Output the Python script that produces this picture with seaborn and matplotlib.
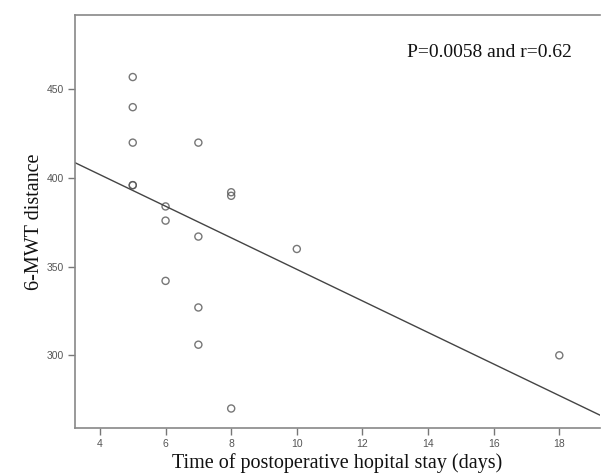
import matplotlib
matplotlib.use("Agg")
import matplotlib.pyplot as plt
import seaborn as sns
import pandas as pd

# Data
stay_days = [5, 5, 5, 5, 5, 6, 6, 6, 7, 7, 7, 7, 8, 8, 8, 10, 18]
mwt_distance = [457, 440, 420, 396, 396, 384, 376, 342, 420, 367, 327, 306, 392, 390, 270, 360, 300]
x_ticks = [4, 6, 8, 10, 12, 14, 16, 18]
y_ticks = [300, 350, 400, 450]
x_label = "Time of postoperative hopital stay (days)"
y_label = "6-MWT distance"
annotation = "P=0.0058 and r=0.62"

df = pd.DataFrame({"days": stay_days, "mwt": mwt_distance})

sns.set_style("white")
plt.rcParams["font.family"] = ["Liberation Sans", "DejaVu Sans"]

fig = plt.figure(figsize=(6.01, 4.75), dpi=100)
ax = fig.add_axes([75 / 601, 1 - 428 / 475, 525 / 601, 413 / 475])
ax.set_xlim(3.24, 19.24)
ax.set_ylim(259, 492)

sns.regplot(data=df, x="days", y="mwt", ax=ax, ci=None, truncate=False,
            scatter_kws=dict(s=26, facecolors="none", edgecolors="#555555", linewidths=1.0),
            line_kws=dict(color="#444444", linewidth=1.0))
ax.set_xlim(3.24, 19.24)
ax.set_ylim(259, 492)

ax.set_xticks(x_ticks)
ax.set_yticks(y_ticks)
ax.tick_params(axis="both", direction="out", length=5, width=1, color="#777777",
               labelsize=7.5, labelcolor="#555555", bottom=True, left=True, pad=3)

for side in ["left", "bottom", "top"]:
    ax.spines[side].set_color("#888888")
    ax.spines[side].set_linewidth(1.2)
ax.spines["right"].set_visible(False)

serif = ["Liberation Serif", "DejaVu Serif"]
ax.set_xlabel(x_label, family=serif, fontsize=14.5, color="#111111", labelpad=3)
ax.set_ylabel(y_label, family=serif, fontsize=14.5, color="#111111", labelpad=2)

ax.text(15.86, 471, annotation, family=serif, fontsize=14,
        color="#111111", ha="center", va="center")

fig.savefig("out.png", dpi=100)
